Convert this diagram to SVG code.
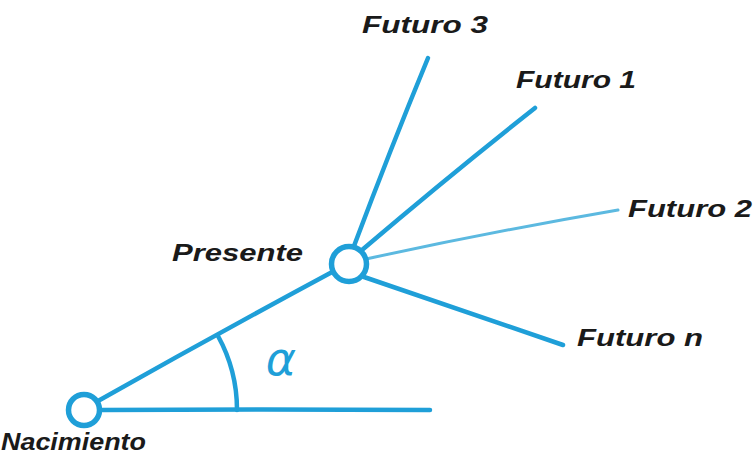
<svg xmlns="http://www.w3.org/2000/svg" width="754" height="458" viewBox="0 0 754 458">
<style>
.ln{fill:none;stroke:#1f9fd8;stroke-width:4.5;stroke-linecap:round}
.thin{fill:none;stroke:#5cb9e0;stroke-width:3;stroke-linecap:round}
.node{fill:#fff;stroke:#1f9fd8;stroke-width:5.5}
.lbl{font-family:"Liberation Sans",Arial,sans-serif;font-weight:bold;font-style:italic;font-size:24px;fill:#1a1a1a}
</style>
<rect width="754" height="458" fill="#fff"/>
<g id="connectors">
<path class="ln" d="M98 401 Q215 335 334 271"/>
<path class="ln" d="M101 410 Q260 409 430 410"/>
<path class="ln" d="M218 336 A153 153 0 0 1 237 410" stroke-width="3.5"/>
<path class="ln" d="M354 246 Q390 150 428 58" stroke-width="4"/>
<path class="ln" d="M362 250 Q450 175 535 108" stroke-width="4"/>
<path class="thin" d="M366 259 Q490 232 618 210"/>
<path class="ln" d="M364 277 Q460 310 563 345" stroke-width="4"/>
</g>
<g id="alpha">
<text x="281" y="375" text-anchor="middle" font-family="DejaVu Sans, sans-serif" font-style="italic" font-size="46" fill="#1f9fd8">α</text>
</g>
<g id="presente">
<circle class="node" cx="349" cy="264" r="17.5"/>
<text class="lbl" x="172" y="261" textLength="131" lengthAdjust="spacingAndGlyphs">Presente</text>
</g>
<g id="nacimiento">
<circle class="node" cx="84" cy="410" r="15.5"/>
<text class="lbl" x="1" y="450" textLength="145" lengthAdjust="spacingAndGlyphs">Nacimiento</text>
</g>
<g id="futuro3">
<text class="lbl" x="362" y="33" textLength="126" lengthAdjust="spacingAndGlyphs">Futuro 3</text>
</g>
<g id="futuro1">
<text class="lbl" x="516" y="88" textLength="120" lengthAdjust="spacingAndGlyphs">Futuro 1</text>
</g>
<g id="futuro2">
<text class="lbl" x="628" y="217" textLength="124" lengthAdjust="spacingAndGlyphs">Futuro 2</text>
</g>
<g id="futuron">
<text class="lbl" x="577" y="346" textLength="126" lengthAdjust="spacingAndGlyphs">Futuro n</text>
</g>
</svg>
